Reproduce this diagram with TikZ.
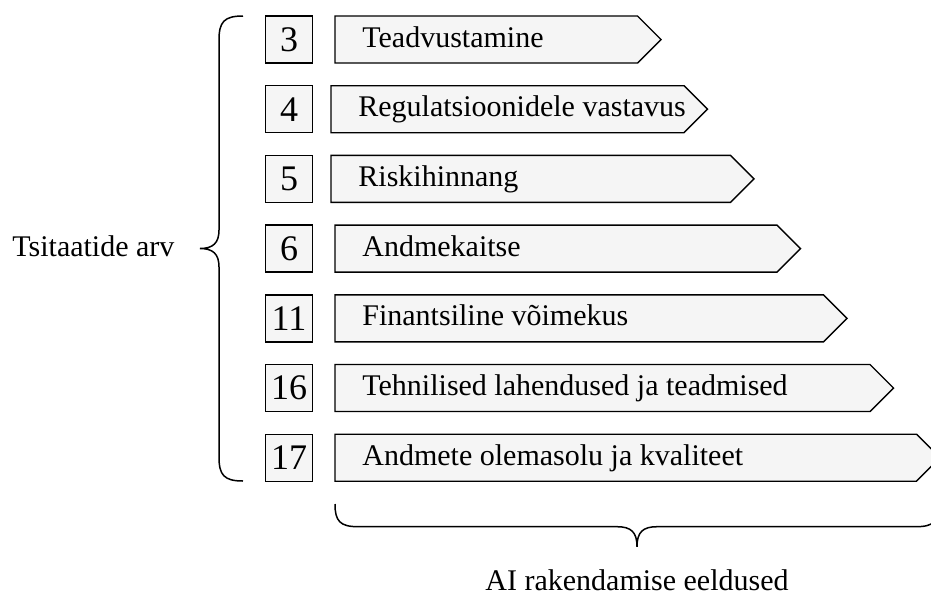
\documentclass[tikz,border=0pt]{standalone}
\usepackage{fontspec}
\setmainfont{Liberation Serif}
\usetikzlibrary{calc}
\tikzset{numbox/.style={draw, fill=black!4, line width=0.7pt, minimum width=23.5pt, minimum height=23.5pt, inner sep=0pt, font=\fontsize{18}{20}\selectfont},
         barbox/.style={draw, fill=black!4, line width=0.7pt, line join=miter},
         bracepath/.style={line width=0.75pt}}
\begin{document}
\begin{tikzpicture}[x=0.5pt,y=-0.5pt,font=\fontsize{15}{17}\selectfont]
                      \useasboundingbox (0,0) rectangle (931,595);
                      \clip (0,0) rectangle (931,595);
                      % rows: number box and arrow bar
                      \foreach \n/\txt/\xl [count=\i from 0] in {3/Teadvustamine/335,4/Regulatsioonidele vastavus/331,5/Riskihinnang/331,6/Andmekaitse/335,11/Finantsiline võimekus/335,16/Tehnilised lahendused ja teadmised/335,17/Andmete olemasolu ja kvaliteet/335}
                      {
                      \pgfmathsetmacro\yt{16+69.7*\i}
                      \pgfmathsetmacro\yb{\yt+47}
                      \pgfmathsetmacro\ym{\yt+23.5}
                      \pgfmathsetmacro\xt{661+46.5*\i}
                      \node[numbox] (num\i) at (289,\ym) {\n};
                      \draw[barbox] (\xl,\yt) -- (\xt-23.5,\yt) -- (\xt,\ym) -- (\xt-23.5,\yb) -- (\xl,\yb) -- cycle;
                      \node[anchor=base west,inner sep=0pt] (bar\i) at (\xl+27,\ym+7.5) {\txt};
                      }
                      % left brace
                      \draw[bracepath] (243,16) .. controls (224,16) and (219,22) .. (219,40) -- (219,230)
                            .. controls (219,243) and (213,248.5) .. (200,248.5)
                            .. controls (213,248.5) and (219,254) .. (219,267) -- (219,457)
                            .. controls (219,475) and (224,481) .. (243,481);
                      \node[anchor=base west,inner sep=0pt] (citecount) at (12,256.7) {Tsitaatide arv};
                      % bottom brace
                      \draw[bracepath] (335,504) .. controls (335,521) and (340,526.7) .. (358,526.7) -- (617,526.7)
                            .. controls (631,526.7) and (637,532) .. (637,546.7)
                            .. controls (637,532) and (643,526.7) .. (657,526.7) -- (916,526.7)
                            .. controls (934,526.7) and (939,521) .. (939,504);
                      \node[anchor=base,inner sep=0pt] (prereq) at (637,590) {AI rakendamise eeldused};
                  \end{tikzpicture}
\end{document}
